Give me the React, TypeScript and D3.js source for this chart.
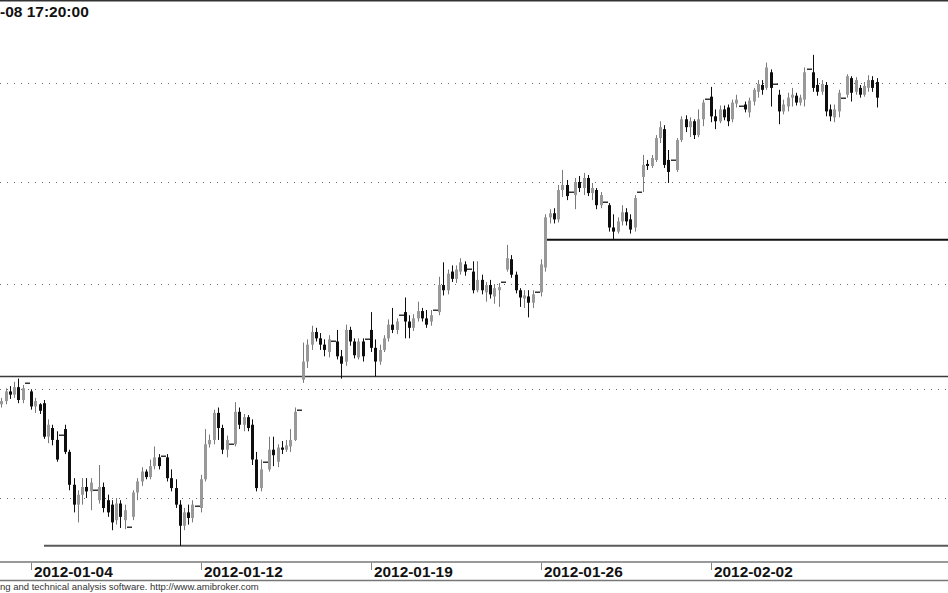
import React from 'react';
import * as d3 from 'd3';

// trading sessions (8 hourly bars each, the last one is the closing-auction print)
const sessions: string[] = [
  '2012-01-03', '2012-01-04', '2012-01-05', '2012-01-09', '2012-01-10', '2012-01-11',
  '2012-01-12', '2012-01-13', '2012-01-16', '2012-01-17', '2012-01-18', '2012-01-19',
  '2012-01-20', '2012-01-23', '2012-01-24', '2012-01-25', '2012-01-26', '2012-01-27',
  '2012-01-30', '2012-01-31', '2012-02-01', '2012-02-02', '2012-02-03', '2012-02-06',
  '2012-02-07', '2012-02-08',
];
const barsPerSession = 8;

// [open, high, low, close]
const ohlc: number[][] = [
  // 01-03
  [3.079,3.090,3.075,3.086],[3.086,3.092,3.083,3.089],[3.089,3.101,3.086,3.098],[3.098,3.103,3.091,3.095],
  [3.095,3.107,3.092,3.102],[3.102,3.110,3.087,3.090],[3.090,3.104,3.087,3.101],[3.106,3.106,3.106,3.106],
  // 01-04
  [3.098,3.100,3.081,3.084],[3.084,3.092,3.078,3.089],[3.086,3.087,3.077,3.080],[3.087,3.090,3.054,3.056],
  [3.056,3.072,3.050,3.067],[3.064,3.067,3.048,3.053],[3.053,3.061,3.033,3.035],[3.058,3.058,3.058,3.058],
  // 01-05
  [3.063,3.067,3.040,3.042],[3.042,3.044,3.007,3.012],[3.012,3.018,2.987,2.994],[2.994,3.007,2.978,3.003],
  [3.003,3.018,2.994,3.010],[3.010,3.018,3.000,3.006],[3.006,3.018,2.989,3.014],[3.007,3.007,3.007,3.007],
  // 01-09
  [2.998,3.030,2.995,3.010],[3.010,3.014,2.987,2.991],[2.998,3.003,2.983,2.987],[2.994,2.998,2.971,2.978],
  [2.980,3.000,2.976,2.995],[2.995,2.998,2.973,2.983],[2.980,2.994,2.972,2.989],[2.974,2.974,2.974,2.974],
  // 01-10
  [2.983,3.007,2.980,3.005],[3.005,3.018,2.998,3.015],[3.015,3.028,3.011,3.024],[3.024,3.026,3.017,3.019],
  [3.019,3.035,3.017,3.029],[3.029,3.047,3.026,3.037],[3.037,3.040,3.026,3.029],[3.038,3.038,3.038,3.038],
  // 01-11
  [3.037,3.040,3.015,3.018],[3.018,3.026,3.006,3.009],[3.009,3.017,2.991,2.994],[2.994,2.998,2.957,2.975],
  [2.975,2.991,2.971,2.987],[2.987,2.994,2.976,2.982],[2.982,2.998,2.978,2.994],[2.993,2.993,2.993,2.993],
  // 01-12
  [2.991,3.021,2.987,3.017],[3.017,3.063,3.015,3.049],[3.049,3.058,3.046,3.053],[3.053,3.081,3.049,3.078],
  [3.078,3.083,3.053,3.064],[3.064,3.067,3.040,3.044],[3.044,3.057,3.037,3.053],[3.049,3.049,3.049,3.049],
  // 01-13
  [3.049,3.088,3.047,3.079],[3.079,3.083,3.063,3.067],[3.067,3.077,3.061,3.074],[3.074,3.076,3.061,3.064],
  [3.067,3.072,3.030,3.035],[3.035,3.042,3.006,3.009],[3.009,3.035,3.006,3.026],[3.033,3.033,3.033,3.033],
  // 01-16
  [3.026,3.056,3.024,3.044],[3.044,3.056,3.029,3.039],[3.033,3.049,3.028,3.046],[3.046,3.052,3.040,3.044],
  [3.044,3.053,3.042,3.048],[3.047,3.063,3.042,3.053],[3.053,3.083,3.052,3.079],[3.081,3.081,3.081,3.081],
  // 01-17
  [3.109,3.144,3.106,3.126],[3.126,3.147,3.120,3.142],[3.142,3.160,3.137,3.154],[3.154,3.158,3.145,3.148],
  [3.148,3.153,3.137,3.142],[3.142,3.147,3.131,3.137],[3.135,3.151,3.130,3.147],[3.145,3.145,3.145,3.145],
  // 01-18
  [3.145,3.156,3.128,3.131],[3.131,3.137,3.110,3.124],[3.126,3.161,3.122,3.156],[3.156,3.159,3.141,3.145],
  [3.145,3.148,3.129,3.132],[3.130,3.148,3.128,3.145],[3.145,3.148,3.126,3.131],[3.147,3.147,3.147,3.147],
  // 01-19
  [3.156,3.173,3.135,3.139],[3.139,3.147,3.112,3.126],[3.126,3.142,3.123,3.137],[3.137,3.151,3.135,3.148],
  [3.148,3.166,3.145,3.161],[3.161,3.177,3.153,3.156],[3.156,3.167,3.152,3.164],[3.170,3.170,3.170,3.170],
  // 01-20
  [3.173,3.187,3.148,3.164],[3.164,3.170,3.148,3.158],[3.158,3.171,3.155,3.167],[3.167,3.183,3.164,3.174],
  [3.174,3.177,3.164,3.167],[3.167,3.175,3.158,3.161],[3.164,3.175,3.160,3.170],[3.175,3.175,3.175,3.175],
  // 01-23
  [3.173,3.207,3.170,3.199],[3.199,3.221,3.189,3.194],[3.194,3.214,3.190,3.210],[3.212,3.218,3.202,3.205],
  [3.205,3.218,3.201,3.214],[3.212,3.225,3.209,3.221],[3.219,3.222,3.208,3.212],[3.215,3.215,3.215,3.215],
  // 01-24
  [3.212,3.222,3.191,3.194],[3.194,3.222,3.192,3.204],[3.204,3.209,3.190,3.194],[3.192,3.202,3.183,3.199],
  [3.199,3.204,3.186,3.190],[3.188,3.200,3.181,3.196],[3.194,3.201,3.178,3.197],[3.202,3.202,3.202,3.202],
  // 01-25
  [3.214,3.238,3.212,3.225],[3.224,3.228,3.206,3.209],[3.209,3.212,3.191,3.194],[3.194,3.196,3.178,3.187],
  [3.186,3.194,3.177,3.189],[3.188,3.194,3.168,3.182],[3.182,3.194,3.177,3.190],[3.192,3.192,3.192,3.192],
  // 01-26
  [3.192,3.224,3.188,3.219],[3.216,3.268,3.212,3.265],[3.265,3.273,3.259,3.269],[3.269,3.274,3.259,3.263],
  [3.263,3.297,3.260,3.292],[3.292,3.312,3.285,3.297],[3.297,3.302,3.282,3.286],[3.290,3.290,3.290,3.290],
  // 01-27
  [3.287,3.304,3.273,3.300],[3.300,3.306,3.290,3.294],[3.294,3.309,3.287,3.304],[3.304,3.307,3.286,3.289],
  [3.289,3.299,3.282,3.294],[3.292,3.294,3.273,3.277],[3.277,3.290,3.274,3.287],[3.280,3.280,3.280,3.280],
  // 01-30
  [3.277,3.279,3.251,3.255],[3.255,3.268,3.243,3.251],[3.251,3.265,3.249,3.261],[3.261,3.277,3.257,3.270],
  [3.270,3.274,3.257,3.261],[3.263,3.268,3.249,3.253],[3.255,3.287,3.251,3.284],[3.290,3.290,3.290,3.290],
  // 01-31
  [3.305,3.327,3.290,3.317],[3.318,3.322,3.312,3.316],[3.316,3.327,3.314,3.324],[3.322,3.347,3.320,3.344],
  [3.344,3.361,3.339,3.355],[3.353,3.357,3.314,3.317],[3.322,3.332,3.299,3.310],[3.322,3.322,3.322,3.322],
  // 02-01
  [3.312,3.344,3.310,3.342],[3.342,3.366,3.340,3.363],[3.363,3.367,3.350,3.355],[3.355,3.365,3.345,3.361],
  [3.361,3.363,3.343,3.347],[3.347,3.373,3.345,3.363],[3.363,3.383,3.356,3.380],[3.384,3.384,3.384,3.384],
  // 02-02
  [3.386,3.396,3.360,3.366],[3.366,3.373,3.353,3.361],[3.361,3.377,3.359,3.373],[3.373,3.377,3.362,3.365],
  [3.375,3.378,3.356,3.361],[3.363,3.383,3.360,3.380],[3.379,3.388,3.375,3.383],[3.376,3.376,3.376,3.376],
  // 02-03
  [3.378,3.381,3.370,3.373],[3.370,3.385,3.365,3.382],[3.381,3.395,3.377,3.393],[3.391,3.403,3.385,3.399],
  [3.398,3.403,3.388,3.393],[3.395,3.421,3.393,3.416],[3.411,3.414,3.376,3.395],[3.399,3.399,3.399,3.399],
  // 02-06
  [3.388,3.393,3.358,3.371],[3.371,3.383,3.368,3.378],[3.376,3.390,3.371,3.385],[3.385,3.395,3.376,3.388],
  [3.387,3.390,3.377,3.380],[3.380,3.388,3.377,3.385],[3.383,3.416,3.376,3.411],[3.414,3.414,3.414,3.414],
  // 02-07
  [3.411,3.429,3.391,3.395],[3.398,3.405,3.387,3.391],[3.391,3.403,3.388,3.399],[3.398,3.401,3.366,3.371],
  [3.373,3.378,3.361,3.366],[3.365,3.378,3.360,3.373],[3.371,3.393,3.365,3.390],[3.385,3.385,3.385,3.385],
  // 02-08
  [3.388,3.409,3.385,3.407],[3.405,3.407,3.381,3.390],[3.391,3.406,3.388,3.403],[3.395,3.398,3.385,3.388],
  [3.388,3.401,3.386,3.397],[3.395,3.408,3.391,3.403],[3.403,3.407,3.391,3.395],[3.401,3.405,3.375,3.385],
];

const gridPrices: number[] = [3.0, 3.1, 3.2, 3.3, 3.4];
const levelPrices: number[] = [2.957, 3.112, 3.243];
const levelStartBars: number[] = [11, 0, 129];
const labelledSessions: string[] = ['2012-01-04', '2012-01-12', '2012-01-19', '2012-01-26', '2012-02-02'];
const titleText = '-08 17:20:00';
const footerText = 'ng and technical analysis software. http://www.amibroker.com';

export default function App() {
  const W = 948;
  const H = 593;
  const x = d3.scaleLinear().domain([0, ohlc.length - 1]).range([-3, 876.75]);
  const y = d3.scaleLog().domain([3.0, 3.4]).range([498, 83]);
  const bodyW = 3;
  const levelStyles = [
    { stroke: '#5a5a5a', w: 2 },
    { stroke: '#3a3a3a', w: 1.5 },
    { stroke: '#111', w: 2 },
  ];

  return (
    <svg
      width={W}
      height={H}
      style={{ position: 'fixed', left: 0, top: 0, background: '#fff' }}
      fontFamily="'Liberation Sans', Arial, sans-serif"
    >
      <rect x={0} y={0} width={W} height={H} fill="#fff" />
      <rect x={0} y={0} width={W} height={1.5} fill="#333" />
      {gridPrices.map((p) => (
        <line
          key={'g' + p}
          x1={0}
          x2={W}
          y1={Math.round(y(p)) + 0.5}
          y2={Math.round(y(p)) + 0.5}
          stroke="#6e6e6e"
          strokeWidth={1}
          strokeDasharray="1 6"
        />
      ))}
      {levelPrices.map((p, i) => (
        <line
          key={'l' + p}
          x1={Math.max(0, Math.round(x(levelStartBars[i])))}
          x2={W}
          y1={y(p)}
          y2={y(p)}
          stroke={levelStyles[i].stroke}
          strokeWidth={levelStyles[i].w}
        />
      ))}
      {ohlc.map((d, i) => {
        const [o, h, l, c] = d;
        const cx = Math.round(x(i));
        if (o === h && h === l && l === c) {
          return <rect key={i} x={cx - 2} y={Math.round(y(c)) - 0.5} width={5} height={1.5} fill="#333" />;
        }
        const up = c >= o;
        const top = y(Math.max(o, c));
        const bot = y(Math.min(o, c));
        const col = up ? '#999999' : '#0e0e0e';
        const wick = up ? '#7a7a7a' : '#0e0e0e';
        return (
          <g key={i}>
            <line x1={cx + 0.5} x2={cx + 0.5} y1={y(h)} y2={y(l)} stroke={wick} strokeWidth={1} />
            <rect x={cx - 1} y={top} width={bodyW} height={Math.max(1.2, bot - top)} fill={col} />
          </g>
        );
      })}
      <text x={0} y={17} fontSize={15.5} fontWeight="bold" fill="#111">
        {titleText}
      </text>
      <line x1={0} x2={W} y1={562} y2={562} stroke="#777" strokeWidth={1.5} />
      <line x1={0} x2={W} y1={580.5} y2={580.5} stroke="#777" strokeWidth={1.5} />
      {labelledSessions.map((s) => {
        const idx = sessions.indexOf(s) * barsPerSession;
        const tx = Math.round(x(idx));
        return (
          <g key={s}>
            <line x1={tx + 0.5} x2={tx + 0.5} y1={563} y2={570} stroke="#888" strokeWidth={1} />
            <text x={tx + 3} y={577} fontSize={15.4} fontWeight="bold" fill="#111">
              {s}
            </text>
          </g>
        );
      })}
      <text x={0} y={590} fontSize={9.5} fill="#333">
        {footerText}
      </text>
    </svg>
  );
}
